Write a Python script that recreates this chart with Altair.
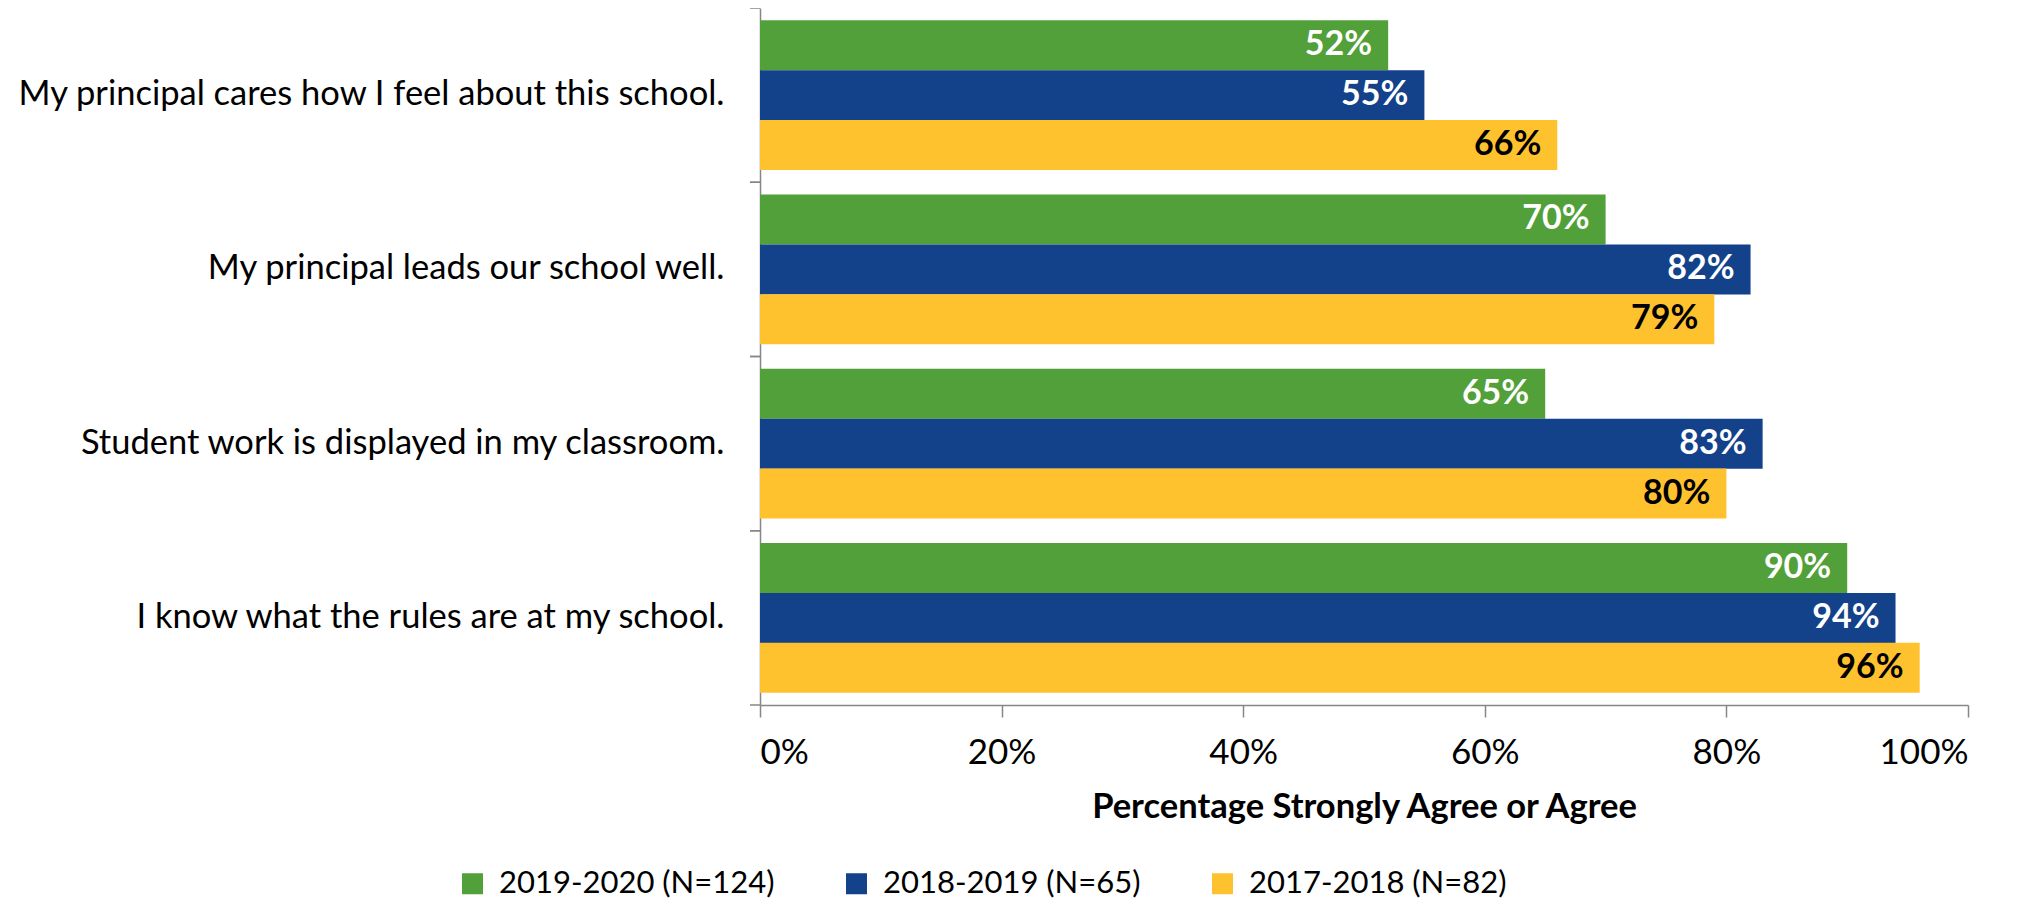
import altair as alt
import pandas as pd

questions = [
    "My principal cares how I feel about this school.",
    "My principal leads our school well.",
    "Student work is displayed in my classroom.",
    "I know what the rules are at my school.",
]
series = ["2019-2020 (N=124)", "2018-2019 (N=65)", "2017-2018 (N=82)"]
colors = ["#52A039", "#13418A", "#FFC22F"]
v_2019_2020 = [0.52, 0.70, 0.65, 0.90]
v_2018_2019 = [0.55, 0.82, 0.83, 0.94]
v_2017_2018 = [0.66, 0.79, 0.80, 0.96]

rows = []
for s, vals in zip(series, [v_2019_2020, v_2018_2019, v_2017_2018]):
    for q, v in zip(questions, vals):
        rows.append({"question": q, "series": s, "value": v})
df = pd.DataFrame(rows)
qdf = pd.DataFrame({"question": questions})

FONT = "Lato"

y_enc = alt.Y(
    "question:N",
    sort=questions,
    scale=alt.Scale(paddingInner=0, paddingOuter=0),
    axis=alt.Axis(
        title=None,
        ticks=False,
        tickSize=0,
        labelPadding=36,
        labelFontSize=34.5,
        labelFont=FONT,
        labelColor="black",
        labelLimit=1000,
        domainColor="#868686",
        domainWidth=1.5,
    ),
)
x_enc = alt.X(
    "value:Q",
    scale=alt.Scale(domain=[0, 1], nice=False),
    axis=alt.Axis(
        title="Percentage Strongly Agree or Agree",
        format="%",
        values=[0, 0.2, 0.4, 0.6, 0.8, 1.0],
        grid=False,
        tickSize=12,
        tickColor="#868686",
        tickWidth=1.5,
        domainColor="#868686",
        domainWidth=1.5,
        labelFontSize=35,
        labelFont=FONT,
        labelColor="black",
        labelPadding=18,
        titleFontSize=34.5,
        titleFont=FONT,
        titleFontWeight="bold",
        titleColor="black",
        titlePadding=20,
    ),
)
yoff = alt.YOffset(
    "series:N",
    sort=series,
    scale=alt.Scale(paddingInner=0, paddingOuter=0.245),
)

bars = alt.Chart(df).mark_bar(size=50).encode(
    y=y_enc,
    x=x_enc,
    yOffset=yoff,
    color=alt.Color(
        "series:N",
        sort=series,
        scale=alt.Scale(domain=series, range=colors),
        legend=alt.Legend(
            title=None,
            orient="none",
            direction="horizontal",
            legendX=-303,
            legendY=860,
            symbolType="square",
            symbolSize=441,
            symbolStrokeWidth=0,
            symbolOpacity=1,
            labelFontSize=31,
            labelFont=FONT,
            labelColor="black",
            labelOffset=11,
            columnPadding=66,
            labelLimit=1000,
        ),
    ),
)

labels = alt.Chart(df).mark_text(
    align="right", baseline="middle", dx=-16, fontSize=34, font=FONT, fontWeight="bold"
).encode(
    y=alt.Y("question:N", sort=questions),
    x=alt.X("value:Q"),
    yOffset=alt.YOffset("series:N", sort=series),
    text=alt.Text("value:Q", format=".0%"),
    color=alt.condition(
        alt.datum.series == "2017-2018 (N=82)", alt.value("black"), alt.value("white")
    ),
)

ticks_top = alt.Chart(qdf).mark_rule(color="#868686", strokeWidth=1.5).encode(
    y=alt.Y("question:N", sort=questions, bandPosition=0),
    x=alt.value(-10),
    x2=alt.value(0),
)
ticks_bot = alt.Chart(qdf).mark_rule(color="#868686", strokeWidth=1.5).encode(
    y=alt.Y("question:N", sort=questions, bandPosition=1),
    x=alt.value(-10),
    x2=alt.value(0),
)

chart = (
    alt.layer(bars, labels, ticks_top, ticks_bot)
    .properties(
        width=1208,
        height=697,
        autosize=alt.AutoSizeParams(type="none"),
        padding={"left": 752, "top": 0, "right": 52, "bottom": 196},
    )
    .configure_view(stroke=None)
)

chart.save("out.html", embed_options={"renderer": "svg", "actions": False})
